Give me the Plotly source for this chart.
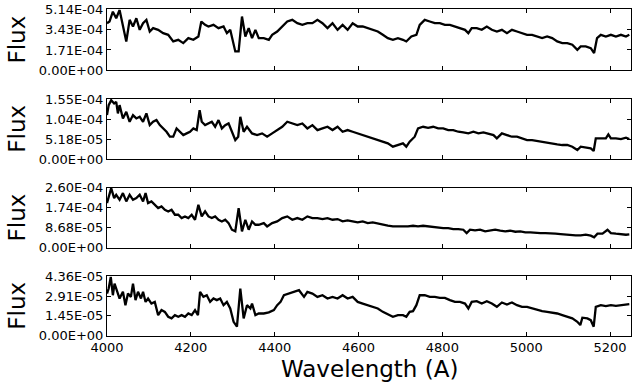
import numpy as np
import plotly.graph_objects as go

# ---------------- data ----------------
wave1 = [4000, 4006, 4014, 4022, 4030, 4038, 4046, 4054, 4062, 4070, 4078, 4086, 4094, 4102, 4110,
         4122, 4134, 4146, 4158, 4170, 4182, 4194, 4206, 4218, 4225, 4234, 4242, 4254, 4266, 4278,
         4286, 4294, 4302, 4306, 4314, 4322, 4330, 4338, 4346, 4354, 4362, 4374, 4386, 4394, 4406,
         4418, 4430, 4442, 4454, 4466, 4478, 4490, 4502, 4514, 4526, 4538, 4550, 4562, 4574, 4586,
         4598, 4610, 4622, 4634, 4646, 4658, 4670, 4682, 4694, 4706, 4714, 4726, 4738, 4746, 4758,
         4770, 4782, 4794, 4806, 4818, 4830, 4842, 4854, 4862, 4870, 4882, 4894, 4906, 4918, 4930,
         4942, 4954, 4966, 4978, 4990, 5002, 5014, 5026, 5038, 5050, 5062, 5074, 5086, 5098, 5110,
         5122, 5130, 5142, 5154, 5162, 5169, 5178, 5190, 5202, 5214, 5226, 5238, 5246]
flux1_e4 = [3.97, 4.11, 4.94, 4.39, 5.08, 3.83, 2.43, 4.25, 3.69, 4.39, 3.41, 3.97, 4.25, 3.27, 3.55,
            3.41, 3.13, 2.99, 2.43, 2.57, 2.29, 2.71, 2.57, 2.85, 4.11, 3.83, 3.69, 3.83, 3.55, 3.69,
            3.13, 3.41, 2.15, 1.59, 1.59, 4.53, 2.85, 3.55, 2.71, 3.41, 2.71, 2.71, 2.57, 2.99, 3.27,
            3.69, 4.11, 4.25, 3.97, 3.83, 3.97, 3.97, 4.25, 3.97, 3.55, 3.97, 3.41, 3.83, 3.41, 3.97,
            3.69, 3.69, 3.55, 3.41, 3.27, 2.99, 2.71, 2.57, 2.71, 2.57, 2.43, 2.85, 2.99, 3.83, 4.25,
            4.11, 3.97, 3.97, 3.83, 3.83, 3.69, 3.55, 3.41, 3.13, 3.55, 3.55, 3.41, 3.69, 3.41, 3.27,
            3.41, 3.13, 3.41, 3.27, 3.13, 2.99, 2.99, 2.85, 2.71, 2.85, 2.71, 2.43, 2.29, 2.29, 2.15,
            1.73, 2.01, 2.01, 1.87, 1.45, 2.71, 2.99, 2.85, 2.99, 2.85, 2.99, 2.85, 2.99]

wave2 = [4000, 4004, 4010, 4017, 4022, 4026, 4030, 4038, 4046, 4054, 4062, 4070, 4078, 4086, 4094,
         4102, 4110, 4118, 4126, 4134, 4142, 4150, 4158, 4166, 4174, 4182, 4190, 4198, 4206, 4214,
         4221, 4226, 4234, 4242, 4250, 4258, 4266, 4274, 4282, 4290, 4298, 4306, 4313, 4318, 4326,
         4334, 4346, 4358, 4370, 4382, 4394, 4406, 4418, 4430, 4442, 4454, 4466, 4478, 4490, 4502,
         4514, 4526, 4538, 4550, 4562, 4574, 4586, 4598, 4610, 4622, 4634, 4646, 4658, 4670, 4682,
         4694, 4706, 4714, 4722, 4734, 4742, 4754, 4766, 4778, 4790, 4802, 4814, 4826, 4838, 4850,
         4862, 4874, 4886, 4898, 4910, 4922, 4930, 4942, 4954, 4966, 4978, 4990, 5002, 5014, 5026,
         5038, 5050, 5062, 5074, 5086, 5098, 5110, 5122, 5130, 5142, 5154, 5161, 5166, 5178, 5190,
         5196, 5202, 5214, 5226, 5238, 5246]
flux2_e5 = [11.37, 13.95, 15.24, 14.38, 14.81, 11.80, 13.95, 10.51, 12.23, 9.64, 11.37, 10.51, 10.94, 9.64, 11.80,
            8.78, 9.64, 10.08, 8.78, 7.92, 7.06, 5.77, 5.77, 7.92, 7.06, 6.20, 6.63, 7.06, 7.92, 7.49,
            12.66, 9.64, 8.78, 9.21, 9.64, 8.35, 10.08, 7.92, 8.78, 9.21, 7.06, 4.91, 5.77, 10.94, 7.06,
            8.35, 6.63, 6.20, 6.63, 5.77, 6.63, 7.49, 8.35, 9.64, 9.21, 8.78, 9.21, 7.92, 8.78, 7.49,
            7.92, 8.35, 7.49, 8.35, 7.06, 7.49, 7.06, 6.63, 6.20, 5.77, 5.51, 4.91, 4.48, 4.05, 3.19,
            3.62, 4.05, 3.19, 4.48, 5.77, 7.92, 8.35, 8.09, 8.35, 7.92, 7.92, 7.49, 7.49, 7.06, 6.89,
            6.63, 7.06, 6.63, 6.89, 6.63, 6.20, 5.34, 6.63, 6.20, 5.77, 5.77, 5.34, 4.91, 4.91, 4.65,
            4.48, 4.31, 4.05, 3.79, 3.62, 3.62, 3.19, 2.33, 3.19, 2.93, 2.76, 2.07, 5.34, 5.34, 5.34,
            6.37, 5.34, 5.34, 5.17, 5.51, 5.17]

wave3 = [4000, 4004, 4010, 4017, 4022, 4030, 4038, 4046, 4054, 4062, 4070, 4078, 4086, 4092, 4098,
         4106, 4114, 4122, 4130, 4138, 4146, 4154, 4162, 4170, 4178, 4186, 4194, 4202, 4210, 4218,
         4226, 4234, 4242, 4250, 4258, 4266, 4274, 4282, 4290, 4298, 4306, 4314, 4322, 4330, 4338,
         4346, 4354, 4362, 4374, 4382, 4394, 4406, 4418, 4430, 4442, 4454, 4466, 4478, 4490, 4502,
         4514, 4526, 4538, 4550, 4562, 4574, 4586, 4598, 4610, 4622, 4634, 4646, 4658, 4670, 4682,
         4694, 4706, 4718, 4730, 4742, 4754, 4766, 4778, 4790, 4802, 4814, 4826, 4838, 4850, 4858,
         4866, 4878, 4890, 4902, 4914, 4926, 4938, 4950, 4962, 4974, 4986, 4998, 5010, 5022, 5034,
         5046, 5058, 5070, 5082, 5094, 5106, 5118, 5130, 5142, 5154, 5162, 5170, 5182, 5194, 5202,
         5214, 5226, 5238, 5246]
flux3_e5 = [19.36, 22.24, 25.86, 21.52, 22.97, 20.80, 23.69, 20.08, 22.97, 20.80, 21.52, 22.97, 20.08, 23.69, 19.36,
            20.08, 18.63, 17.19, 17.91, 16.47, 15.74, 16.47, 14.30, 14.30, 12.86, 13.58, 12.86, 14.30, 12.13, 18.63,
            13.58, 15.74, 13.58, 12.86, 13.58, 12.13, 11.41, 12.13, 10.69, 7.80, 7.08, 17.19, 7.08, 12.13, 7.80,
            11.41, 9.97, 9.97, 10.69, 9.24, 10.69, 11.41, 12.86, 13.58, 12.13, 12.86, 12.13, 13.58, 12.86, 12.86,
            12.42, 12.86, 12.13, 12.42, 11.41, 11.84, 11.41, 10.98, 11.41, 10.69, 10.98, 10.40, 9.97, 9.53, 9.24,
            9.24, 8.96, 9.24, 9.53, 9.24, 9.53, 9.24, 8.96, 8.96, 8.52, 8.52, 8.09, 8.09, 7.80, 6.36,
            7.80, 7.51, 7.80, 7.08, 7.51, 7.80, 7.37, 7.08, 7.37, 6.93, 7.08, 6.64, 6.64, 6.36, 6.36,
            6.36, 6.07, 6.07, 5.92, 5.63, 5.63, 5.34, 5.34, 5.63, 5.20, 4.48, 6.07, 6.07, 7.80, 6.36,
            6.07, 5.78, 5.63, 5.78]

wave4 = [4000, 4004, 4009, 4014, 4018, 4025, 4030, 4038, 4044, 4050, 4057, 4062, 4068, 4074, 4081,
         4086, 4092, 4098, 4106, 4114, 4122, 4130, 4138, 4146, 4154, 4162, 4170, 4178, 4186, 4194,
         4202, 4210, 4217, 4222, 4230, 4238, 4246, 4254, 4262, 4270, 4278, 4286, 4294, 4302, 4310,
         4318, 4326, 4334, 4342, 4346, 4354, 4362, 4374, 4386, 4398, 4406, 4414, 4422, 4434, 4446,
         4458, 4470, 4478, 4490, 4502, 4514, 4526, 4538, 4550, 4562, 4574, 4586, 4598, 4610, 4622,
         4634, 4646, 4658, 4670, 4682, 4694, 4706, 4714, 4722, 4730, 4738, 4746, 4758, 4770, 4782,
         4794, 4806, 4818, 4830, 4842, 4854, 4862, 4870, 4882, 4894, 4906, 4918, 4930, 4942, 4954,
         4966, 4978, 4990, 5002, 5014, 5026, 5038, 5050, 5062, 5074, 5086, 5098, 5110, 5122, 5129,
         5134, 5146, 5154, 5161, 5166, 5178, 5190, 5202, 5214, 5226, 5238, 5246]
flux4_e5 = [3.09, 3.46, 4.31, 2.97, 3.82, 3.22, 2.73, 3.22, 2.24, 3.09, 2.85, 3.82, 2.61, 3.22, 2.73,
            3.22, 2.48, 2.73, 2.36, 2.48, 1.51, 1.88, 1.75, 1.39, 1.27, 1.51, 1.39, 1.51, 1.39, 1.63,
            1.51, 1.88, 1.51, 3.22, 2.85, 2.97, 2.48, 2.73, 2.61, 2.73, 2.24, 2.48, 2.00, 1.02, 0.66,
            3.46, 1.27, 2.24, 2.00, 2.36, 1.51, 1.63, 1.63, 1.71, 1.88, 2.24, 2.48, 2.97, 3.09, 3.22,
            3.34, 2.85, 3.22, 3.09, 2.85, 2.97, 2.73, 2.85, 2.73, 2.97, 2.73, 2.85, 2.48, 2.36, 2.24,
            2.12, 2.00, 1.75, 1.56, 1.39, 1.51, 1.51, 1.39, 1.75, 1.80, 2.24, 2.97, 2.97, 2.85, 2.85,
            2.78, 2.78, 2.61, 2.48, 2.48, 2.36, 2.00, 2.48, 2.53, 2.36, 2.53, 2.36, 2.12, 2.44, 2.29,
            2.44, 2.24, 2.12, 2.12, 2.00, 1.88, 1.80, 1.75, 1.71, 1.63, 1.51, 1.39, 1.27, 1.02, 0.78,
            1.32, 1.27, 1.14, 0.66, 2.12, 2.24, 2.17, 2.24, 2.19, 2.24, 2.29, 2.31]

flux1 = np.array(flux1_e4) * 1e-4
flux2 = np.array(flux2_e5) * 1e-5
flux3 = np.array(flux3_e5) * 1e-5
flux4 = np.array(flux4_e5) * 1e-5

ymax = [5.14e-4, 1.554e-4, 2.604e-4, 4.36e-5]
ytick_labels = [
    ["0.00E+00", "1.71E-04", "3.43E-04", "5.14E-04"],
    ["0.00E+00", "5.18E-05", "1.04E-04", "1.55E-04"],
    ["0.00E+00", "8.68E-05", "1.74E-04", "2.60E-04"],
    ["0.00E+00", "1.45E-05", "2.91E-05", "4.36E-05"],
]
xtick_vals = [4000, 4200, 4400, 4600, 4800, 5000, 5200]
x_range = [4000, 5250]

# ---------------- figure ----------------
W, H = 632, 385
panels_px = [(9.3, 70.3), (99.0, 159.0), (187.7, 247.7), (276.3, 335.7)]
x_dom = [107 / W, 631 / W]
font = "DejaVu Sans"

fig = go.Figure()
waves = [wave1, wave2, wave3, wave4]
fluxes = [flux1, flux2, flux3, flux4]

layout = dict(
    width=W, height=H,
    margin=dict(l=0, r=0, t=0, b=0, autoexpand=False),
    paper_bgcolor="white", plot_bgcolor="white",
    showlegend=False,
    font=dict(family=font, size=13, color="black"),
)
annotations = []
for i in range(4):
    n = "" if i == 0 else str(i + 1)
    fig.add_trace(go.Scatter(x=waves[i], y=fluxes[i], mode="lines",
                             line=dict(color="black", width=2.3),
                             xaxis="x" + n, yaxis="y" + n, hoverinfo="skip"))
    top, bot = panels_px[i]
    ydom = [1 - bot / H, 1 - top / H]
    tv = [ymax[i] * k / 3 for k in range(4)]
    layout["xaxis" + n] = dict(
        domain=x_dom, range=x_range, anchor="y" + n, automargin=False,
        tickvals=xtick_vals, ticks="inside", ticklen=4, tickcolor="black",
        showticklabels=(i == 3), showgrid=False, zeroline=False,
        showline=True, linecolor="black", linewidth=1, mirror="ticks",
        tickfont=dict(family=font, size=13, color="black"),
        **({} if i == 0 else {"matches": "x"}),
    )
    layout["yaxis" + n] = dict(
        domain=ydom, range=[0, ymax[i]], anchor="x" + n, automargin=False,
        tickvals=tv, ticktext=ytick_labels[i],
        ticks="inside", ticklen=4, tickcolor="black",
        showgrid=False, zeroline=False,
        showline=True, linecolor="black", linewidth=1, mirror="ticks",
        tickfont=dict(family=font, size=13, color="black"),
    )
    annotations.append(dict(
        text="Flux", x=16.7 / W, y=1 - (top + bot) / 2 / H,
        xref="paper", yref="paper", showarrow=False, textangle=-90,
        xanchor="center", yanchor="middle",
        font=dict(family=font, size=23, color="black"),
    ))

annotations.append(dict(
    text="Wavelength (A)", x=(107 + 631) / 2 / W, y=1 - 369 / H,
    xref="paper", yref="paper", showarrow=False,
    xanchor="center", yanchor="middle",
    font=dict(family=font, size=23, color="black"),
))
layout["annotations"] = annotations
fig.update_layout(**layout)

fig.write_html(
    "out.html",
    config={"displayModeBar": False},
    post_script="document.body.style.margin='0';document.body.style.padding='0';"
                "document.body.style.overflow='hidden';",
)
